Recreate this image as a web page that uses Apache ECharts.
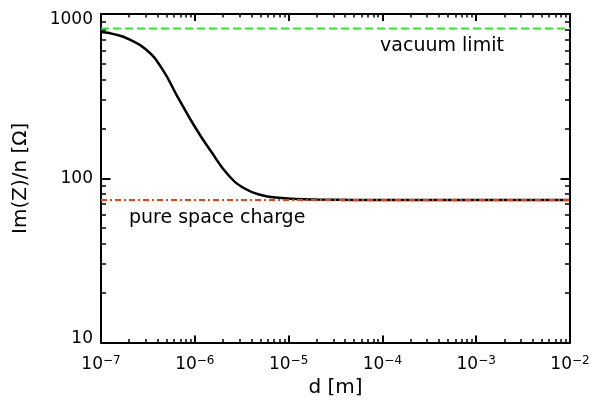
<!DOCTYPE html>
<html>
<head>
<meta charset="utf-8">
<script src="https://cdn.jsdelivr.net/npm/echarts@6/dist/echarts.min.js"></script>
<style>
    html, body { margin: 0; padding: 0; background: #fff; }
    #chart { width: 594px; height: 403px; }
</style>
</head>
<body>
<div id="chart"></div>
<script>
// d [m] and Im(Z)/n [Ohm]
const dValues = [1e-7, 1.4e-7, 2e-7, 3e-7, 4.4e-7, 6.6e-7, 1e-6, 1.5e-6, 2.3e-6, 3.4e-6, 5.2e-6, 7.8e-6, 1.2e-5, 2e-5, 5e-5, 1e-4, 1e-3, 1e-2];
const impedance = [776, 752, 701, 610, 472, 311, 206, 145, 104, 86.7, 78.9, 76.2, 74.7, 74.2, 73.9, 73.8, 73.8, 73.8];

// reference levels
const vacuumLimit = 817;
const spaceCharge = 73.8;
const dRange = [1e-7, 1e-2];
const zRange = [10, 1000];

const FONT = 'DejaVu Sans';

let myChart = echarts.init(document.getElementById('chart'));

// axis styling shared by the bottom/top and left/right axes
function xAxisBase(position, showLabel) {
    return {
        type: 'log',
        logBase: 10,
        min: dRange[0],
        max: dRange[1],
        position: position,
        axisLine: { onZero: false, lineStyle: { color: '#000', width: 2 } },
        axisTick: { inside: true, length: 7, lineStyle: { color: '#000', width: 2 } },
        minorTick: { show: true, splitNumber: 9, length: 3.5, lineStyle: { color: '#000', width: 1.5 } },
        splitLine: { show: false },
        minorSplitLine: { show: false },
        axisLabel: {
            show: showLabel,
            margin: 12,
            formatter: function (v) {
                let e = Math.round(Math.log10(v));
                return '{b|10}{s|' + (e < 0 ? '\u2212' : '') + Math.abs(e) + '}';
            },
            rich: {
                b: { fontFamily: FONT, fontSize: 17, color: '#000', lineHeight: 20 },
                s: { fontFamily: FONT, fontSize: 12, color: '#000', lineHeight: 12, verticalAlign: 'top' }
            }
        }
    };
}

function yAxisBase(position, showLabel) {
    return {
        type: 'log',
        logBase: 10,
        min: zRange[0],
        max: zRange[1],
        position: position,
        axisLine: { onZero: false, lineStyle: { color: '#000', width: 2 } },
        axisTick: { inside: true, length: 9.5, lineStyle: { color: '#000', width: 2 } },
        minorTick: { show: true, splitNumber: 9, length: 5, lineStyle: { color: '#000', width: 1.5 } },
        splitLine: { show: false },
        minorSplitLine: { show: false },
        axisLabel: {
            show: showLabel,
            margin: 8,
            formatter: function (v) {
                if (v >= 1000) return '{t|' + v + '}';
                if (v <= 10) return '{d|' + v + '}';
                return '{n|' + v + '}';
            },
            rich: {
                n: { fontFamily: FONT, fontSize: 17, color: '#000' },
                t: { fontFamily: FONT, fontSize: 17, color: '#000', padding: [12, 0, 0, 0] },
                d: { fontFamily: FONT, fontSize: 17, color: '#000', padding: [0, 0, 8, 0] }
            }
        }
    };
}

let xBottom = xAxisBase('bottom', true);
xBottom.name = 'd [m]';
xBottom.nameLocation = 'middle';
xBottom.nameGap = 30;
xBottom.nameTextStyle = { fontFamily: FONT, fontSize: 20, color: '#000' };

let yLeft = yAxisBase('left', true);
yLeft.name = 'Im(Z)/n [\u03A9]';
yLeft.nameLocation = 'middle';
yLeft.nameGap = 70;
yLeft.nameTextStyle = { fontFamily: FONT, fontSize: 20, color: '#000' };

let option = {
    backgroundColor: '#fff',
    animation: false,
    grid: { left: 101, top: 14, width: 469, height: 331 },
    xAxis: [xBottom, xAxisBase('top', false)],
    yAxis: [yLeft, yAxisBase('right', false)],
    series: [
        {
            type: 'line',
            data: dValues.map((d, i) => [d, impedance[i]]),
            showSymbol: false,
            smooth: 0.5,
            lineStyle: { color: '#000', width: 2.5 },
            z: 2
        },
        {
            type: 'line',
            data: dRange.map(d => [d, vacuumLimit]),
            showSymbol: false,
            lineStyle: { color: '#2ee82e', width: 2, type: [8, 4] },
            z: 3
        },
        {
            type: 'line',
            data: dRange.map(d => [d, spaceCharge]),
            showSymbol: false,
            lineStyle: { color: '#ff3c00', width: 2, type: [6, 3, 2, 3] },
            z: 4
        }
    ],
    graphic: [
        {
            type: 'text', x: 442, y: 46,
            style: { text: 'vacuum limit', fontFamily: FONT, fontSize: 19, fill: '#000', align: 'center', verticalAlign: 'middle' }
        },
        {
            type: 'text', x: 129, y: 218,
            style: { text: 'pure space charge', fontFamily: FONT, fontSize: 19, fill: '#000', align: 'left', verticalAlign: 'middle' }
        }
    ]
};
option && myChart.setOption(option);
</script>
</body>
</html>
